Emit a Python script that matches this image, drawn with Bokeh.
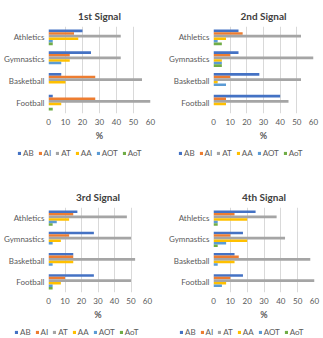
from bokeh.plotting import figure
from bokeh.models import ColumnDataSource, Range1d, FactorRange, Legend, LegendItem, FixedTicker
from bokeh.transform import dodge
from bokeh.layouts import row, column
from bokeh.embed import file_html
from bokeh.resources import INLINE

categories = ["Football", "Basketball", "Gymnastics", "Athletics"]
series = ["AB", "AI", "AT", "AA", "AOT", "AoT"]
colors = ["#4472C4", "#ED7D31", "#A5A5A5", "#FFC000", "#5B9BD5", "#70AD47"]
x_ticks = [0, 10, 20, 30, 40, 50, 60]
titles = ["1st Signal", "2nd Signal", "3rd Signal", "4th Signal"]

# values per series, in order Football, Basketball, Gymnastics, Athletics
s1_AB = [2.5, 7.5, 25, 20]
s1_AI = [27.5, 27.5, 12.5, 15]
s1_AT = [60, 55, 42.5, 42.5]
s1_AA = [7.5, 10, 12.5, 17.5]
s1_AOT = [0, 0, 7.5, 2.5]
s1_AoT = [2.5, 0, 0, 2.5]

s2_AB = [40, 27.5, 15, 15]
s2_AI = [7.5, 10, 10, 17.5]
s2_AT = [45, 52.5, 60, 52.5]
s2_AA = [7.5, 2.5, 5, 7.5]
s2_AOT = [0, 7.5, 5, 2.5]
s2_AoT = [0, 0, 5, 5]

s3_AB = [27.5, 15, 27.5, 17.5]
s3_AI = [10, 15, 12.5, 15]
s3_AT = [50, 52.5, 50, 47.5]
s3_AA = [7.5, 15, 7.5, 12.5]
s3_AOT = [2.5, 2.5, 2.5, 5]
s3_AoT = [2.5, 0, 0, 2.5]

s4_AB = [17.5, 12.5, 17.5, 25]
s4_AI = [10, 15, 10, 12.5]
s4_AT = [60, 57.5, 42.5, 37.5]
s4_AA = [7.5, 12.5, 20, 20]
s4_AOT = [5, 2.5, 7.5, 2.5]
s4_AoT = [0, 0, 2.5, 2.5]

signals = [
    [s1_AB, s1_AI, s1_AT, s1_AA, s1_AOT, s1_AoT],
    [s2_AB, s2_AI, s2_AT, s2_AA, s2_AOT, s2_AoT],
    [s3_AB, s3_AI, s3_AT, s3_AA, s3_AOT, s3_AoT],
    [s4_AB, s4_AI, s4_AT, s4_AA, s4_AOT, s4_AoT],
]

FONT = "Lato"
TXT = "#595959"
BAR_H = 0.12


def make_panel(title, vals, w, h, fl, fr, ft, fb, title_off, margin):
    p = figure(width=w, height=h, y_range=FactorRange(*categories), x_range=Range1d(0, 60),
               output_backend="svg", toolbar_location=None,
               min_border_left=fl, min_border_right=fr, min_border_top=ft, min_border_bottom=fb,
               margin=margin, frame_align=False)
    data = {"cat": categories}
    for s, v in zip(series, vals):
        data[s] = v
    src = ColumnDataSource(data)
    for i, (s, c) in enumerate(zip(series, colors)):
        off = (2.5 - i) * BAR_H
        p.hbar(y=dodge("cat", off, range=p.y_range), right=s, left=0, height=BAR_H,
               color=c, line_color=None, source=src)
    p.title.text = title
    p.title.align = "center"
    p.title.offset = title_off
    p.title.text_font = FONT
    p.title.text_font_size = "10px"
    p.title.text_font_style = "bold"
    p.title.text_color = "#404040"
    p.xaxis.ticker = FixedTicker(ticks=x_ticks)
    p.xaxis.axis_label = "%"
    p.xaxis.axis_label_text_font = FONT
    p.xaxis.axis_label_text_font_size = "9px"
    p.xaxis.axis_label_text_font_style = "bold"
    p.xaxis.axis_label_text_color = TXT
    p.xaxis.axis_label_standoff = 2
    p.xaxis.major_label_standoff = 5
    for ax in (p.xaxis, p.yaxis):
        ax.axis_line_color = None
        ax.major_tick_line_color = None
        ax.minor_tick_line_color = None
        ax.major_tick_out = 0
        ax.major_tick_in = 0
        ax.minor_tick_out = 0
        ax.minor_tick_in = 0
        ax.major_label_text_font = FONT
        ax.major_label_text_font_size = "8px"
        ax.major_label_text_color = TXT
    p.yaxis.major_label_standoff = 4
    p.xgrid.grid_line_color = "#D9D9D9"
    p.ygrid.grid_line_color = None
    p.outline_line_color = None
    return p


def make_legend(w, h, loc, margin):
    lf = figure(width=w, height=h, x_range=Range1d(0, 1), y_range=Range1d(0, 1),
                x_axis_type=None, y_axis_type=None, output_backend="svg",
                toolbar_location=None, min_border=0, margin=margin, frame_align=False)
    lf.outline_line_color = None
    lf.xgrid.grid_line_color = None
    lf.ygrid.grid_line_color = None
    # zero-width bars: only carry the legend swatches
    src = ColumnDataSource({"y": [0.5], "r": [0]})
    items = []
    for s, c in zip(series, colors):
        r = lf.hbar(y="y", right="r", left=0, height=0.1, color=c, line_color=None, source=src)
        items.append(LegendItem(label=s, renderers=[r]))
    leg = Legend(items=items, orientation="horizontal", location=loc,
                 label_text_font=FONT, label_text_font_size="8px", label_text_color=TXT,
                 glyph_width=4, glyph_height=4, label_standoff=2, spacing=4,
                 label_width=0, label_height=10,
                 padding=0, margin=0, border_line_color=None, background_fill_alpha=0)
    lf.add_layout(leg, "center")
    return lf


p1 = make_panel(titles[0], signals[0], 158, 147, 48, 8, 26, 34, -18, (0, 0, 0, 0))
l1 = make_legend(158, 16, (17, 5), (0, 0, 0, 0))
p2 = make_panel(titles[1], signals[1], 158, 147, 45, 10, 26, 34, -18, (0, 0, 0, 7))
l2 = make_legend(158, 16, (13, 5), (0, 0, 0, 7))
p3 = make_panel(titles[2], signals[2], 157, 139, 45, 10, 21, 30, -18, (20, 0, 0, 0))
l3 = make_legend(157, 16, (14, 1), (0, 0, 0, 0))
p4 = make_panel(titles[3], signals[3], 158, 139, 47, 9, 21, 30, -18, (20, 0, 0, 8))
l4 = make_legend(158, 16, (14, 1), (0, 0, 0, 8))

layout = column(row(column(p1, l1), column(p2, l2)), row(column(p3, l3), column(p4, l4)))
open("out.html", "w").write(file_html(layout, INLINE))
